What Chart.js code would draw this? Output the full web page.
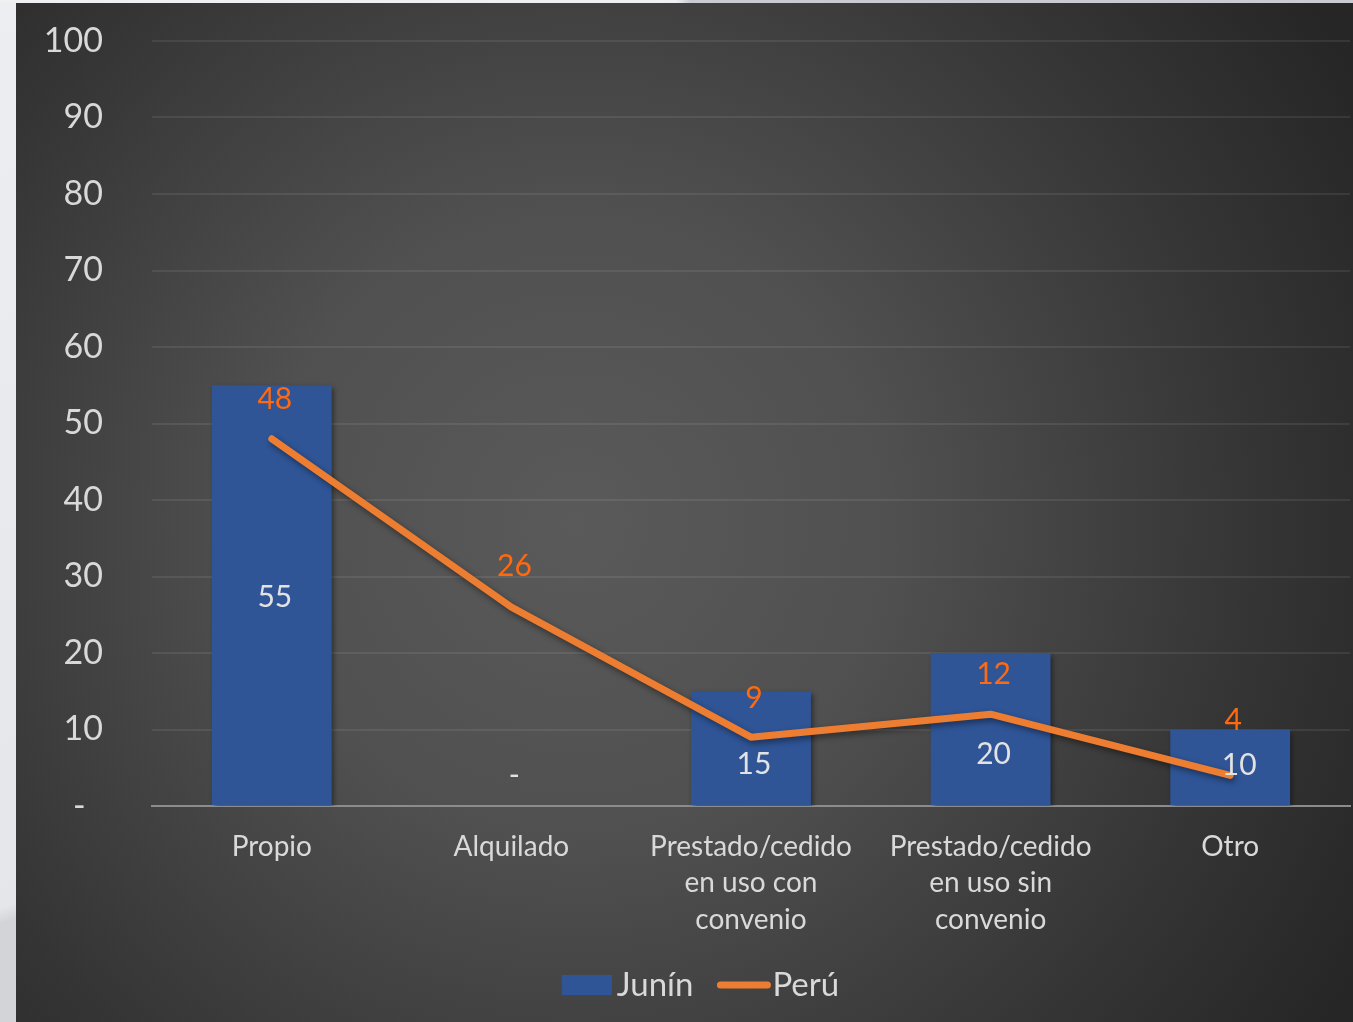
<!DOCTYPE html>
<html>
<head>
<meta charset="utf-8">
<script src="https://cdn.jsdelivr.net/npm/chart.js@4.4.1/dist/chart.umd.min.js"></script>
<style>
  html, body { margin: 0; padding: 0; }
  body {
    width: 1353px; height: 1022px; overflow: hidden; position: relative;
    background: linear-gradient(160deg, #eceef1 0%, #e4e6e9 60%, #d2d4d8 61%, #d0d2d6 100%);
  }
  #topstrip { position: absolute; left: 0; top: 0; width: 1353px; height: 3px;
    background: linear-gradient(90deg, #eef0f2 0%, #eef0f2 50%, #c9cbd1 51%, #c9cbd1 100%); }
  #wrap { position: absolute; left: 16px; top: 3px; width: 1337px; height: 1019px; }
</style>
</head>
<body>
<div id="topstrip"></div>
<div id="wrap"><canvas id="c" width="1337" height="1019"></canvas></div>
<script>
const categories = ['Propio', 'Alquilado', ['Prestado/cedido', 'en uso con', 'convenio'], ['Prestado/cedido', 'en uso sin', 'convenio'], 'Otro'];
const juninValues = [55, 0, 15, 20, 10];
const peruValues = [48, 26, 9, 12, 4];
const yTicks = [0, 10, 20, 30, 40, 50, 60, 70, 80, 90, 100];
const seriesNames = ['Junín', 'Perú'];

const FONT = 'Lato, "Open Sans", sans-serif';
const TEXT = '#d9d9d9';

const bgPlugin = {
  id: 'bg',
  beforeDraw(chart) {
    const ctx = chart.ctx, w = chart.width, h = chart.height;
    ctx.save();
    const g = ctx.createRadialGradient(560, 520, 0, 560, 520, 900);
    g.addColorStop(0, '#5a5a5a');
    g.addColorStop(0.35, '#505050');
    g.addColorStop(0.75, '#353535');
    g.addColorStop(1, '#262626');
    ctx.fillStyle = g;
    ctx.fillRect(0, 0, w, h);
    ctx.restore();
  }
};

const shadowPlugin = {
  id: 'shadow',
  beforeDatasetDraw(chart, args) {
    const ctx = chart.ctx;
    ctx.save();
    ctx.shadowColor = 'rgba(0,0,0,0.45)';
    ctx.shadowBlur = args.index === 1 ? 6 : 5;
    ctx.shadowOffsetX = 2;
    ctx.shadowOffsetY = 3;
  },
  afterDatasetDraw(chart) { chart.ctx.restore(); }
};

const labelPlugin = {
  id: 'vlabels',
  afterDatasetsDraw(chart, args, opts) {
    const ctx = chart.ctx;
    const y = chart.scales.y;
    ctx.save();
    ctx.textAlign = 'center';
    ctx.textBaseline = 'middle';
    ctx.font = '30px ' + FONT;
    chart.getDatasetMeta(0).data.forEach((bar, i) => {
      const v = juninValues[i];
      const cy = v === 0 ? y.getPixelForValue(0) - 31 : (bar.y + bar.base) / 2 + opts.barNudge[i];
      ctx.fillStyle = '#e2e2e2';
      ctx.fillText(v === 0 ? '-' : String(v), bar.x + opts.barNudgeX[i], cy);
    });
    chart.getDatasetMeta(1).data.forEach((pt, i) => {
      ctx.fillStyle = '#ff6a10';
      ctx.fillText(String(peruValues[i]), pt.x + 3, pt.y - opts.lineLift[i]);
    });
    ctx.restore();
  }
};

const legendPlugin = {
  id: 'customLegend',
  afterDraw(chart, args, opts) {
    const ctx = chart.ctx;
    const ds = chart.data.datasets;
    ctx.save();
    ctx.font = opts.size + 'px ' + FONT;
    ctx.textBaseline = 'middle';
    ctx.textAlign = 'left';
    const sym = 50, gap = 5, itemGap = 24;
    const widths = ds.map(d => sym + gap + ctx.measureText(d.label).width);
    const total = widths.reduce((a, b) => a + b, 0) + itemGap * (ds.length - 1);
    let x = chart.width / 2 + opts.shift - total / 2;
    const cy = chart.height - opts.bottom;
    ds.forEach((d, i) => {
      if (d.type === 'line') {
        ctx.strokeStyle = d.borderColor;
        ctx.lineWidth = 7;
        ctx.lineCap = 'round';
        ctx.beginPath();
        ctx.moveTo(x + 3, cy);
        ctx.lineTo(x + sym, cy);
        ctx.stroke();
      } else {
        ctx.fillStyle = d.backgroundColor;
        ctx.fillRect(x, cy - 10, sym, 20);
      }
      ctx.fillStyle = TEXT;
      ctx.fillText(d.label, x + sym + gap, cy);
      x += widths[i] + itemGap;
    });
    ctx.restore();
  }
};

new Chart(document.getElementById('c'), {
  type: 'bar',
  data: {
    labels: categories,
    datasets: [
      {
        type: 'bar', label: seriesNames[0], data: juninValues,
        backgroundColor: '#2f5597', borderWidth: 0,
        barPercentage: 0.5, categoryPercentage: 1.0, order: 1
      },
      {
        type: 'line', label: seriesNames[1], data: peruValues,
        borderColor: '#ed7d31', backgroundColor: '#ed7d31', borderWidth: 7,
        borderCapStyle: 'round', borderJoinStyle: 'round',
        pointRadius: 0, tension: 0, order: 0
      }
    ]
  },
  options: {
    responsive: false, animation: false,
    layout: { padding: { top: 38, right: 3, bottom: 66, left: 0 } },
    plugins: {
      tooltip: { enabled: false },
      legend: { display: false },
      customLegend: { size: 33, bottom: 37, shift: 16 },
      vlabels: { barNudge: [2, 0, 16, 25, -2], barNudgeX: [3, 3, 3, 3, 9], lineLift: [39, 41, 39, 40, 55] }
    },
    scales: {
      x: {
        grid: { display: false, drawTicks: false },
        border: { display: true, color: '#8c8c8c', width: 2 },
        ticks: { color: TEXT, font: { family: FONT, size: 28, lineHeight: 1.32 }, padding: 22, maxRotation: 0, autoSkip: false },
        afterFit(s) { s.height = 150; }
      },
      y: {
        min: 0, max: 100,
        afterBuildTicks(s) { s.ticks = yTicks.map(v => ({ value: v })); },
        grid: {
          drawTicks: false,
          color: (c) => c.tick && c.tick.value === 0 ? 'rgba(0,0,0,0)' : 'rgba(255,255,255,0.08)',
          lineWidth: 2
        },
        border: { display: false },
        ticks: {
          color: TEXT, font: { family: FONT, size: 34 }, padding: 49,
          callback: (v) => v === 0 ? '-  ' : String(v)
        },
        afterFit(s) { s.width = 136; s.paddingTop = 0; s.paddingBottom = 0; }
      }
    }
  },
  plugins: [bgPlugin, shadowPlugin, labelPlugin, legendPlugin]
});
</script>
</body>
</html>
